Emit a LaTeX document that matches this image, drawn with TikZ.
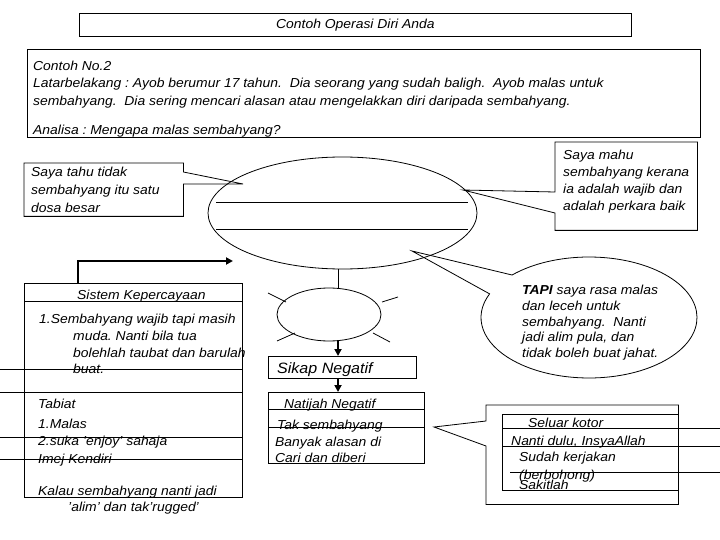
\documentclass[tikz,border=0pt]{standalone}
\usepackage{fontspec}
\setmainfont{Liberation Sans}[FakeStretch=1.07]
\usetikzlibrary{shapes.geometric,arrows.meta}
\frenchspacing
\begin{document}
\begin{tikzpicture}[x=1pt,y=-1pt,
  txt/.style={anchor=base west,inner sep=0pt,font=\fontsize{13}{16}\selectfont\itshape},
  thin/.style={line width=0.8pt},
  box/.style={draw,line width=0.8pt,rectangle,inner sep=0pt,anchor=north west},
  cbox/.style={rectangle,inner sep=0pt,anchor=north west},
  oval/.style={ellipse,inner sep=0pt},
  bigarrow/.style={line width=2pt,-{Triangle[length=7pt,width=7pt]}}]
\useasboundingbox (0,0) rectangle (720,540);
\fill[white] (0,0) rectangle (720,540);

% title
\node[box,minimum width=552pt,minimum height=23pt] (title) at (79,13) {};
\node[txt,anchor=center] (titletxt) at (title.center) {Contoh Operasi Diri Anda};

% main box
\node[box,minimum width=673pt,minimum height=88pt] (main) at (27,49) {};
\node[txt] (m1) at (33,71) {Contoh No.2};
\node[txt] (m2) at (33,88) {Latarbelakang : Ayob berumur 17 tahun.\ \ Dia seorang yang sudah baligh.\ \ Ayob malas untuk};
\node[txt] (m3) at (33,106) {sembahyang.\ \ Dia sering mencari alasan atau mengelakkan diri daripada sembahyang.};
\node[txt] (m4) at (33,135) {Analisa : Mengapa malas sembahyang?};

% TAPI bubble
\node[oval,minimum width=216pt,minimum height=121pt] (tapi) at (589,317.5) {};
\coordinate (ttip) at (412,251);
\draw[thin] (ttip) -- ([shift={(135.4:108pt and 60.5pt)}]tapi.center)
  arc[start angle=135.4,end angle=-203,x radius=108pt,y radius=60.5pt] -- cycle;
\node[txt] (tp1) at (522,294) {\textbf{TAPI} saya rasa malas};
\node[txt] (tp2) at (522,310) {dan leceh untuk};
\node[txt] (tp3) at (522,326) {sembahyang.\ \ Nanti};
\node[txt] (tp4) at (522,341) {jadi alim pula, dan};
\node[txt] (tp5) at (522,357) {tidak boleh buat jahat.};

% big ellipse
\node[draw,thin,oval,minimum width=269pt,minimum height=112pt] (big) at (342.5,213) {};
\draw[thin] (216,202) -- (468,202);
\draw[thin] (216,229) -- (468,229);

% left callout
\node[cbox,minimum width=159pt,minimum height=53pt] (leftbox) at (24,163) {};
\coordinate (ltip) at (243,184);
\draw[thin] (leftbox.north east) -- (leftbox.north west) -- (leftbox.south west) -- (leftbox.south east)
  -- ([yshift=-21pt]leftbox.north east) -- (ltip) -- ([yshift=-9pt]leftbox.north east) -- cycle;
\node[txt] (l1) at (31,177) {Saya tahu tidak};
\node[txt] (l2) at (31,195) {sembahyang itu satu};
\node[txt] (l3) at (31,212) {dosa besar};

% right callout
\node[cbox,minimum width=142pt,minimum height=88pt] (rightbox) at (555,142) {};
\coordinate (rtip) at (463,190);
\draw[thin] (rightbox.north west) -- (rightbox.north east) -- (rightbox.south east) -- (rightbox.south west)
  -- ([yshift=-71pt]rightbox.north west) -- (rtip) -- ([yshift=-50pt]rightbox.north west) -- cycle;
\node[txt] (r1) at (563,160) {Saya mahu};
\node[txt] (r2) at (563,177) {sembahyang kerana};
\node[txt] (r3) at (563,194) {ia adalah wajib dan};
\node[txt] (r4) at (563,211) {adalah perkara baik};

% sistem box
\node[box,minimum width=218pt,minimum height=214pt] (sistem) at (24,283) {};
\draw[thin] (24,301) -- (242,301);
\draw[thin] (0,369) -- (242,369);
\draw[thin] (0,392) -- (242,392);
\draw[thin] (0,437) -- (242,437);
\draw[thin] (0,459) -- (242,459);
\node[txt] (s1) at (77,299) {Sistem Kepercayaan};
\node[txt] (s2) at (39,323) {1.Sembahyang wajib tapi masih};
\node[txt] (s3) at (73,340) {muda. Nanti bila tua};
\node[txt] (s4) at (73,357) {bolehlah taubat dan barulah};
\node[txt] (s5) at (73,373) {buat.};
\node[txt] (s6) at (38,408) {Tabiat};
\node[txt] (s7) at (38,428) {1.Malas};
\node[txt] (s8) at (38,445) {2.suka 'enjoy' sahaja};
\node[txt] (s9) at (38,463) {Imej Kendiri};
\node[txt] (s10) at (38,495) {Kalau sembahyang nanti jadi};
\node[txt] (s11) at (68,511) {'alim' dan tak'rugged'};

% arrow from sistem to big ellipse
\coordinate (atip) at (233,261);
\draw[bigarrow] ([xshift=54pt]sistem.north west) |- (atip);

% small ellipse
\node[draw,thin,oval,minimum width=104pt,minimum height=53pt] (small) at (329,314.5) {};
\coordinate (axis) at (338,0);
\draw[thin] (axis |- big.south) -- (axis |- small.north);
\draw[thin] (268,293) -- (286,302);
\draw[thin] (382,302) -- (398,297);
\draw[thin] (277,341) -- (295,333);
\draw[thin] (373,333) -- (390,342);

% sikap
\node[box,minimum width=148pt,minimum height=22pt] (sikap) at (268,356) {};
\node[txt,font=\fontsize{15}{18}\selectfont\itshape] (sikaptxt) at (277,373) {Sikap Negatif};
\draw[bigarrow] (axis |- small.south) -- (axis |- sikap.north);

% natijah
\node[box,minimum width=156pt,minimum height=71pt] (natijah) at (268,392) {};
\draw[bigarrow] (axis |- sikap.south) -- (axis |- natijah.north);
\draw[thin] (268,409) -- (424,409);
\draw[thin] (268,427) -- (424,427);
\node[txt] (n1) at (284,408) {Natijah Negatif};
\node[txt] (n2) at (277,429) {Tak sembahyang};
\node[txt] (n3) at (275,446) {Banyak alasan di};
\node[txt] (n4) at (275,462) {Cari dan diberi};

% seluar callout
\node[cbox,minimum width=192pt,minimum height=99pt] (seluar) at (486,405) {};
\coordinate (stip) at (434,427);
\draw[thin] (seluar.north west) -- (seluar.north east) -- (seluar.south east) -- (seluar.south west)
  -- ([yshift=-41pt]seluar.north west) -- (stip) -- ([yshift=-16pt]seluar.north west) -- cycle;
\draw[thin] (502,414) rectangle (678,490);
\draw[thin] (502,428) -- (720,428);
\draw[thin] (502,446) -- (720,446);
\draw[thin] (510,472) -- (720,472);
\node[txt] (e1) at (528,427) {Seluar kotor};
\node[txt] (e2) at (511,445) {Nanti dulu, InsyaAllah};
\node[txt] (e3) at (519,461) {Sudah kerjakan};
\node[txt] (e4) at (519,479) {(berbohong)};
\node[txt] (e5) at (519,489) {Sakitlah};
\end{tikzpicture}
\end{document}
